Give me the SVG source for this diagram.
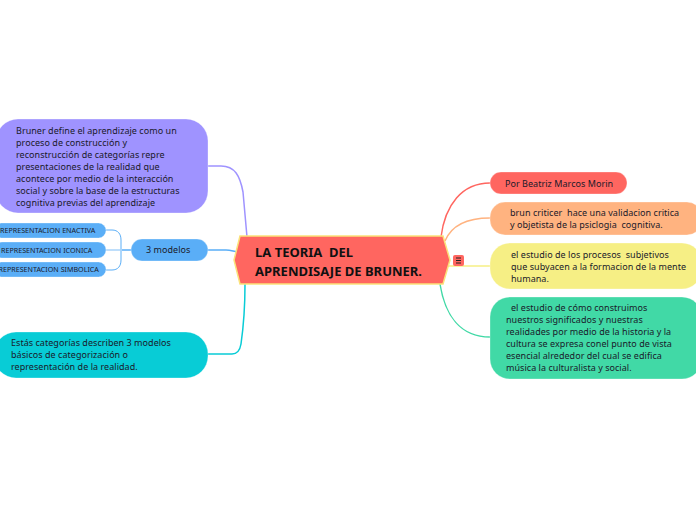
<svg xmlns="http://www.w3.org/2000/svg" width="696" height="520" viewBox="0 0 696 520">
<style>
text{font-family:"Noto Sans","Open Sans","DejaVu Sans",sans-serif;fill:#1a1a2a;font-size:9px;letter-spacing:.04px;white-space:pre}
.c{fill:none;stroke-width:1.5}
.n rect{stroke:#fff;stroke-opacity:.3;stroke-width:1}
.s text{font-size:7.150px;letter-spacing:0}
.t text{font-size:13px;font-weight:700;fill:#111;letter-spacing:0}
</style>
<rect width="696" height="520" fill="#fff"/>
<g id="connectors">
<path class="c" stroke="#9f93ff" d="M208 166H221C235 166 240 176 243 192L247 237"/>
<path class="c" stroke="#5aaef7" d="M208 250H226C232 250 234 252 240 252"/>
<path class="c" stroke="#5aaef7" d="M131 250H122"/>
<path stroke-width="1" fill="none" stroke="#5aaef7" d="M106 230H112C118 230 121 234 121 240V260C121 266 118 270 112 270H106"/>
<path class="c" stroke="#a9d3fa" d="M106 250H122"/>
<path class="c" stroke="#08ccd6" d="M208 354H232C238 354 240 350 241 344C243 330 245 305 245 284"/>
<path class="c" stroke="#ff6660" d="M441 237C445 205 462 183 490 183"/>
<path class="c" stroke="#ffb380" d="M445 241C452 224 470 218 490 218"/>
<path class="c" stroke="#f6ef85" stroke-width="2" d="M448 266H490"/>
<path class="c" stroke="#41d9a6" d="M440 284C445 315 460 337 490 337"/>
</g>
<g id="root" class="t">
<path d="M240 236H443L450 260L443 284H240L234 260Z" fill="#ff6660" stroke="#fbe27a" stroke-width="1.5"/>
<text x="255" y="257">LA TEORIA  DEL</text>
<text x="255" y="276">APRENDISAJE DE BRUNER.</text>
</g>
<g id="collapse">
<rect x="453" y="255" width="11" height="11" rx="2" fill="#ff6660"/>
<path d="M456 258H461M456 260.500H461M456 263H461" stroke="#222" stroke-width="1"/>
</g>
<g id="n1" class="n">
<rect x="-4" y="119" width="212" height="94" rx="22" fill="#9f93ff"/>
<text x="16" y="134">Bruner define el aprendizaje como un</text>
<text x="16" y="146">proceso de construcción y</text>
<text x="16" y="158">reconstrucción de categorías repre</text>
<text x="16" y="170">presentaciones de la realidad que</text>
<text x="16" y="182">acontece por medio de la interacción</text>
<text x="16" y="194">social y sobre la base de la estructuras</text>
<text x="16" y="206">cognitiva previas del aprendizaje</text>
</g>
<g id="n2" class="n"><rect x="131" y="239" width="77" height="22" rx="11" fill="#5aaef7"/><text x="146" y="253">3 modelos</text></g>
<g id="n2a" class="n s"><rect x="-6" y="223" width="112" height="15" rx="7.500" fill="#5aaef7"/><text x="0" y="233">REPRESENTACION ENACTIVA</text></g>
<g id="n2b" class="n s"><rect x="-6" y="242" width="112" height="16" rx="8" fill="#5aaef7"/><text x="1" y="252.500">REPRESENTACION ICONICA</text></g>
<g id="n2c" class="n s"><rect x="-6" y="262" width="112" height="15" rx="7.500" fill="#5aaef7"/><text x="-1.500" y="272">REPRESENTACION SIMBOLICA</text></g>
<g id="n3" class="n">
<rect x="-6" y="332" width="214" height="46" rx="22" fill="#08ccd6"/>
<text x="11" y="346">Estás categorías describen 3 modelos</text>
<text x="11" y="358">básicos de categorización o</text>
<text x="11" y="370">representación de la realidad.</text>
</g>
<g id="n4" class="n"><rect x="490" y="172" width="137" height="22" rx="11" fill="#ff6660"/><text x="505" y="187">Por Beatriz Marcos Morin</text></g>
<g id="n5" class="n">
<rect x="490" y="202" width="212" height="33" rx="15" fill="#ffb380"/>
<text x="510" y="216">brun criticer  hace una validacion critica</text>
<text x="510" y="228">y objetista de la psiclogia  cognitiva.</text>
</g>
<g id="n6" class="n">
<rect x="490" y="243" width="212" height="46" rx="20" fill="#f6ef85"/>
<text x="511" y="258">el estudio de los procesos  subjetivos</text>
<text x="511" y="270">que subyacen a la formacion de la mente</text>
<text x="511" y="282">humana.</text>
</g>
<g id="n7" class="n">
<rect x="490" y="297" width="212" height="82" rx="20" fill="#41d9a6"/>
<text x="511" y="311">el estudio de cómo construimos</text>
<text x="506" y="323">nuestros significados y nuestras</text>
<text x="506" y="335">realidades por medio de la historia y la</text>
<text x="506" y="347">cultura se expresa conel punto de vista</text>
<text x="506" y="359">esencial alrededor del cual se edifica</text>
<text x="506" y="371">música la culturalista y social.</text>
</g>
</svg>
